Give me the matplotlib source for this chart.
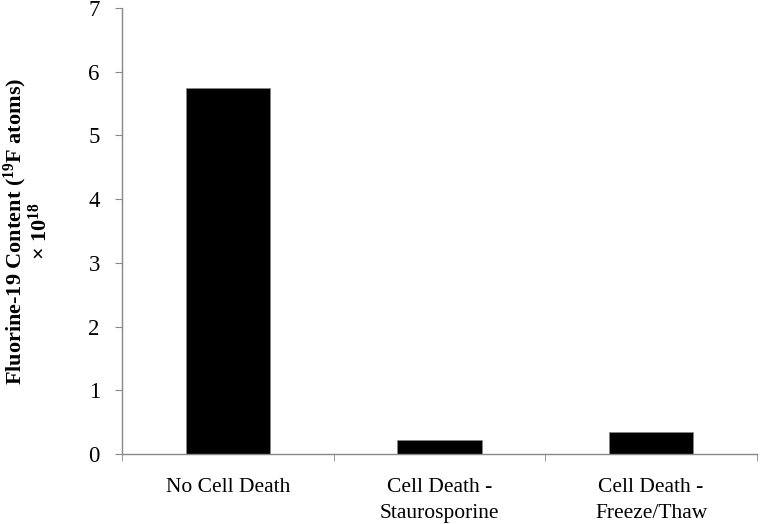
import matplotlib
matplotlib.use("Agg")
import matplotlib.pyplot as plt

# data
categories = ["No Cell Death", "Cell Death -\nStaurosporine", "Cell Death -\nFreeze/Thaw"]
f19_content = [5.74, 0.22, 0.35]
y_ticks = [0, 1, 2, 3, 4, 5, 6, 7]

plt.rcParams["font.family"] = ["Liberation Serif", "DejaVu Serif"]
plt.rcParams["mathtext.fontset"] = "custom"
plt.rcParams["mathtext.rm"] = "Liberation Serif"
plt.rcParams["mathtext.bf"] = "Liberation Serif:bold"

fig = plt.figure(figsize=(7.63, 5.24), dpi=100)
ax = fig.add_axes([0.160, 0.1336, 0.832, 0.851])

x = range(len(categories))
ax.bar(x, f19_content, width=0.40, color="black", edgecolor="#888888", linewidth=0.5)

ax.set_xlim(-0.5, len(categories) - 0.5)
ax.set_ylim(0, 7)
ax.set_yticks(y_ticks)

# category labels at centres, tick marks at category boundaries
ax.set_xticks(list(x))
ax.set_xticklabels(categories, fontsize=15.5, linespacing=1.55)
ax.set_xticks([i - 0.5 for i in range(len(categories) + 1)], minor=True)
ax.tick_params(axis="x", which="major", length=0, pad=17)
ax.tick_params(axis="x", which="minor", length=5, color="#888888", direction="out")
ax.tick_params(axis="y", length=5, color="#888888", direction="out", labelsize=16.5, pad=11)

for side in ["top", "right"]:
    ax.spines[side].set_visible(False)
for side in ["left", "bottom"]:
    ax.spines[side].set_color("#888888")
    ax.spines[side].set_linewidth(1.0)

ax.set_ylabel("Fluorine-19 Content ($\\mathbf{^{19}}$F atoms)\n× 10$\\mathbf{^{18}}$",
              fontsize=16, fontweight="bold", labelpad=26, linespacing=1.0)

fig.savefig("out.png", dpi=100)
